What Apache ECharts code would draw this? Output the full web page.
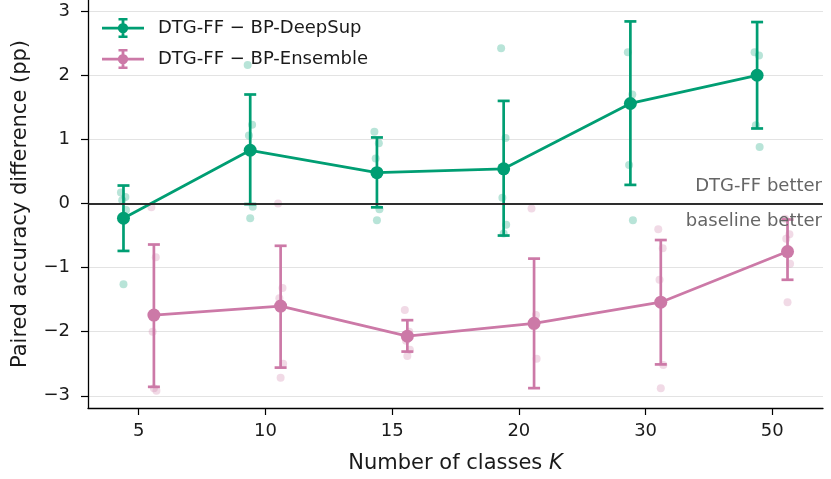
<!DOCTYPE html>
<html>
<head>
<meta charset="utf-8">
<script src="https://cdn.jsdelivr.net/npm/echarts@6/dist/echarts.min.js"></script>
<style>
  html, body { margin: 0; padding: 0; background: #fff; }
  #chart { width: 831px; height: 479px; }
</style>
</head>
<body>
<div id="chart"></div>
<script>
// number of classes K (categorical positions)
const categories = ['5', '10', '15', '20', '30', '50'];
const yTicks = [-3, -2, -1, 0, 1, 2, 3];

// DTG-FF - BP-DeepSup
const deepMean = [-0.23, 0.83, 0.48, 0.54, 1.56, 2.0];
const deepLow  = [-0.74, -0.01, -0.06, -0.50, 0.29, 1.17];
const deepHigh = [0.28, 1.70, 1.03, 1.60, 2.84, 2.83];
const deepSeeds = [
  [0.17, 0.10, 0.05, -0.10, -1.26],
  [2.16, 1.23, 1.06, -0.05, -0.23],
  [1.12, 0.94, 0.70, -0.09, -0.26],
  [2.42, 1.02, 0.09, -0.33, -0.47],
  [2.36, 1.70, 0.60, -0.26],
  [2.36, 2.31, 1.22, 0.88]
];

// DTG-FF - BP-Ensemble
const ensMean = [-1.74, -1.60, -2.07, -1.87, -1.54, -0.75];
const ensLow  = [-2.86, -2.56, -2.31, -2.88, -2.51, -1.19];
const ensHigh = [-0.64, -0.66, -1.82, -0.86, -0.57, -0.25];
const ensSeeds = [
  [-0.06, -0.84, -2.00, -2.92, -2.88],
  [0.00, -1.32, -1.48, -2.50, -2.72],
  [-1.66, -2.00, -2.14, -2.28, -2.38],
  [-0.08, -1.74, -1.91, -2.42, -3.20],
  [-0.40, -0.70, -1.19, -2.52, -2.88],
  [-0.24, -0.48, -0.55, -0.94, -1.54]
];

const GREEN = '#009E73';
const PINK = '#CC79A7';
const FONT = 'DejaVu Sans';
const DEEP = 'DTG-FF \u2212 BP-DeepSup';
const ENS = 'DTG-FF \u2212 BP-Ensemble';
const jitter = [-0.02, 0.015, -0.01, 0.02, 0.0];

// line + error bar + marker, all subpaths clockwise so nothing is cut out
const legendIcon = 'path://M0,8.7h42v2.8H0z M19.6,0h2.8v20H19.6z M16.5,0h9v2.4H16.5z M16.5,17.6h9v2.4H16.5z ' +
  'M15.8,10.1a5.2,5.2 0 1 1 10.4,0a5.2,5.2 0 1 1 -10.4,0z';

function meanPts(mean, off) { return mean.map((v, i) => [i + off, v]); }
function barPts(low, high, off) { return low.map((v, i) => [i + off, v, high[i]]); }
function seedPts(seeds, off) {
  const out = [];
  seeds.forEach((arr, i) => arr.forEach((v, j) => out.push([i + off + jitter[j], v])));
  return out;
}

function errorBars(color) {
  return function (params, api) {
    const x = api.value(0);
    const lo = api.coord([x, api.value(1)]);
    const hi = api.coord([x, api.value(2)]);
    const cap = 6;
    const style = { stroke: color, lineWidth: 2.7 };
    return {
      type: 'group',
      children: [
        { type: 'line', shape: { x1: lo[0], y1: lo[1], x2: hi[0], y2: hi[1] }, style },
        { type: 'line', shape: { x1: lo[0] - cap, y1: lo[1], x2: lo[0] + cap, y2: lo[1] }, style },
        { type: 'line', shape: { x1: hi[0] - cap, y1: hi[1], x2: hi[0] + cap, y2: hi[1] }, style }
      ]
    };
  };
}

const chart = echarts.init(document.getElementById('chart'), null, { renderer: 'canvas' });
chart.setOption({
  animation: false,
  textStyle: { fontFamily: FONT },
  grid: { left: 88, right: 8, top: 0, bottom: 66, containLabel: false },
  legend: {
    left: 97, top: 13, orient: 'vertical', itemGap: 11,
    itemWidth: 44, itemHeight: 20,
    textStyle: { fontFamily: FONT, fontSize: 18, color: '#1a1a1a', padding: [0, 0, 0, 8] },
    data: [
      { name: DEEP, icon: legendIcon, itemStyle: { color: GREEN } },
      { name: ENS, icon: legendIcon, itemStyle: { color: PINK } }
    ]
  },
  xAxis: {
    type: 'value', min: -0.4, max: 5.4,
    name: 'Number of classes {i|K}', nameLocation: 'middle', nameGap: 45,
    nameTextStyle: { fontFamily: FONT, fontSize: 21, color: '#1a1a1a',
      rich: { i: { fontFamily: FONT, fontSize: 21, fontStyle: 'italic', color: '#1a1a1a' } } },
    axisLine: { onZero: false, lineStyle: { color: '#000', width: 1.3 } },
    axisTick: { show: true, length: 7, lineStyle: { color: '#000', width: 1.2 }, customValues: [0, 1, 2, 3, 4, 5] },
    axisLabel: { fontFamily: FONT, fontSize: 18, color: '#1a1a1a', margin: 14,
      customValues: [0, 1, 2, 3, 4, 5], formatter: v => categories[Math.round(v)] },
    splitLine: { show: false }
  },
  yAxis: {
    type: 'value', min: -3.19, max: 3.174,
    name: 'Paired accuracy difference (pp)', nameLocation: 'middle', nameGap: 57,
    nameTextStyle: { fontFamily: FONT, fontSize: 21, color: '#1a1a1a' },
    axisLine: { show: true, onZero: false, lineStyle: { color: '#000', width: 1.3 } },
    axisTick: { show: true, length: 7, lineStyle: { color: '#000', width: 1.2 }, customValues: yTicks },
    axisLabel: { fontFamily: FONT, fontSize: 18, color: '#1a1a1a', margin: 18,
      customValues: yTicks, formatter: v => (v < 0 ? '\u2212' + Math.abs(v) : String(v)) },
    splitLine: { show: true, lineStyle: { color: '#e3e3e3', width: 1.2 } }
  },
  series: [
    {
      name: DEEP + ' seeds', type: 'scatter', data: seedPts(deepSeeds, -0.12),
      symbolSize: 8, itemStyle: { color: GREEN, opacity: 0.28 }, z: 1, silent: true
    },
    {
      name: ENS + ' seeds', type: 'scatter', data: seedPts(ensSeeds, 0.12),
      symbolSize: 8, itemStyle: { color: PINK, opacity: 0.28 }, z: 1, silent: true,
      markLine: {
        silent: true, symbol: 'none',
        lineStyle: { color: '#222', width: 1.5, type: 'solid' },
        data: [
          { yAxis: 0, label: { show: true, position: 'insideEndTop', formatter: 'DTG-FF better',
              fontFamily: FONT, fontSize: 18, color: '#666', distance: [1, 8] } },
          { yAxis: 0, label: { show: true, position: 'insideEndBottom', formatter: 'baseline better',
              fontFamily: FONT, fontSize: 18, color: '#666', distance: [1, 9] } }
        ]
      }
    },
    {
      name: DEEP, type: 'custom', renderItem: errorBars(GREEN),
      data: barPts(deepLow, deepHigh, -0.12), z: 3, silent: true,
      encode: { x: 0, y: [1, 2] }
    },
    {
      name: ENS, type: 'custom', renderItem: errorBars(PINK),
      data: barPts(ensLow, ensHigh, 0.12), z: 3, silent: true,
      encode: { x: 0, y: [1, 2] }
    },
    {
      name: DEEP, type: 'line', data: meanPts(deepMean, -0.12),
      symbol: 'circle', symbolSize: 13, showAllSymbol: true,
      lineStyle: { color: GREEN, width: 2.8 }, itemStyle: { color: GREEN }, z: 4
    },
    {
      name: ENS, type: 'line', data: meanPts(ensMean, 0.12),
      symbol: 'circle', symbolSize: 13, showAllSymbol: true,
      lineStyle: { color: PINK, width: 2.8 }, itemStyle: { color: PINK }, z: 4
    }
  ]
});
</script>
</body>
</html>
